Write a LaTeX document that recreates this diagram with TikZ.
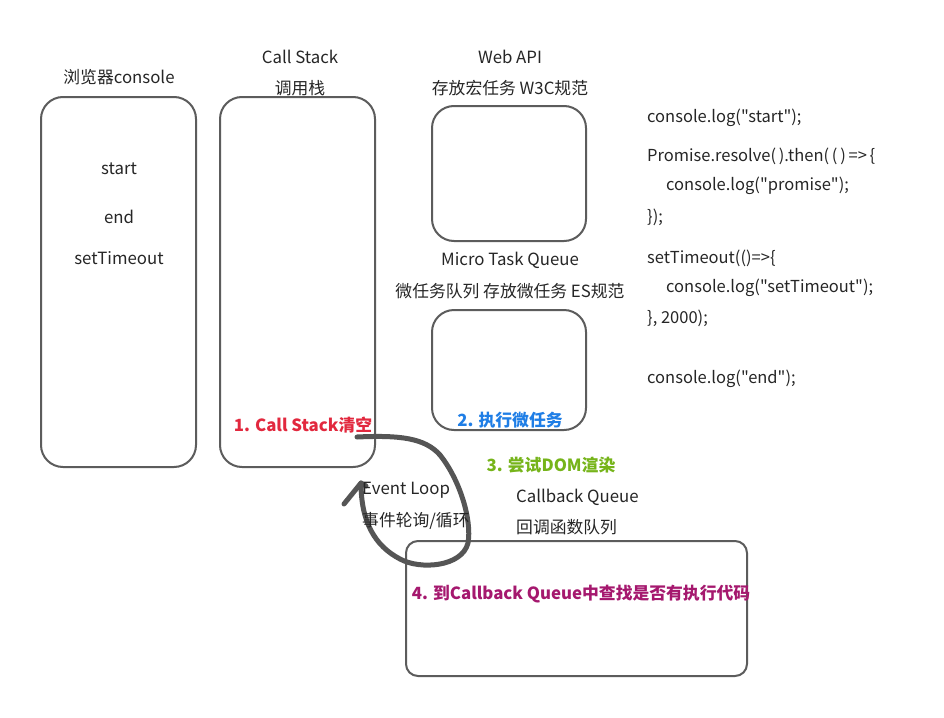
\documentclass[tikz,border=0pt]{standalone}
\usepackage{fontspec}
\setmainfont{Noto Sans CJK SC}[Ligatures=TeXOff]
\begin{document}
\begin{tikzpicture}[x=1pt,y=-1pt,
  box/.style={draw=boxgray,line width=2pt,rounded corners=22pt,inner sep=0pt},
  lbl/.style={font=\fontsize{16.8}{19}\selectfont,text=black!85,inner sep=0pt},
  code/.style={font=\fontsize{16.5}{19}\selectfont,text=black!85,inner sep=0pt,anchor=west},
  stepnote/.style={font=\fontsize{16.8}{19}\selectfont\bfseries,inner sep=0pt},
  loopline/.style={draw=loopgray,line width=5pt,line cap=round,line join=round}]
\definecolor{boxgray}{HTML}{5C5C5C}
\definecolor{loopgray}{HTML}{555555}
\definecolor{cred}{HTML}{E2283E}
\definecolor{cblue}{HTML}{1F7EE6}
\definecolor{cgreen}{HTML}{76B41A}
\definecolor{cpurple}{HTML}{A5186E}
\useasboundingbox[fill=white] (0,0) rectangle (944,717);

% boxes
\node[box,minimum width=155pt,minimum height=370pt] (console) at (118.5,282) {};
\node[box,minimum width=155pt,minimum height=370pt] (stack) at (297.5,282) {};
\node[box,minimum width=154pt,minimum height=135pt] (webapi) at (509,173.5) {};
\node[box,minimum width=154pt,minimum height=120pt] (micro) at (509,370) {};
\node[box,rounded corners=12pt,minimum width=341pt,minimum height=135pt] (callback) at (576.5,608.5) {};

% titles
\node[lbl] (tconsole) at (119,77) {浏览器console};
\node[lbl] (tstack1) at (300,57) {Call Stack};
\node[lbl] (tstack2) at (300,88) {调用栈};
\node[lbl] (tweb1) at (510,57) {Web API};
\node[lbl] (tweb2) at (510,88) {存放宏任务 W3C规范};
\node[lbl] (tmicro1) at (510,260) {Micro Task Queue};
\node[lbl] (tmicro2) at (510,291) {微任务队列 存放微任务 ES规范};
\node[lbl,anchor=west] (tcb1) at (516,497) {Callback Queue};
\node[lbl,anchor=west] (tcb2) at (516,527) {回调函数队列};

% console output
\node[lbl] (ostart) at (119,169) {start};
\node[lbl] (oend) at (119,217) {end};
\node[lbl] (otimeout) at (119,258) {setTimeout};

% code
\node[code] (c1) at (647,118) {console.log("start");};
\node[code] (c2) at (647,156) {Promise.resolve(\,).then(\,(\,)\,=>\,\{};
\node[code] (c3) at (666,186) {console.log("promise");};
\node[code] (c4) at (647,217) {\});};
\node[code] (c5) at (647,258) {setTimeout(()=>\{};
\node[code] (c6) at (666,288) {console.log("setTimeout");};
\node[code] (c7) at (647,318) {\}, 2000);};
\node[code] (c8) at (647,379) {console.log("end");};

% event loop
\coordinate (l0) at (357,437);
\coordinate (ltip) at (361,483);
\draw[loopline] (l0) .. controls (400,435) and (425,438) .. (440,455)
  .. controls (460,480) and (472,520) .. (468,543)
  .. controls (462,567) and (420,570) .. (400,559)
  .. controls (375,546) and (361,522) .. (ltip);
\coordinate (lwing) at (344,504);
\draw[loopline] (lwing) -- (ltip) -- (366,486);

\node[lbl,anchor=west] (el1) at (362,490) {Event Loop};
\node[lbl,anchor=west] (el2) at (362,521) {事件轮询/循环};

% step notes
\node[stepnote,text=cred] (s1) at (303,425) {1. Call Stack清空};
\node[stepnote,text=cblue] (s2) at (510,420) {2. 执行微任务};
\node[stepnote,text=cgreen] (s3) at (551,465) {3. 尝试DOM渲染};
\node[stepnote,text=cpurple] (s4) at (581,594) {4. 到Callback Queue中查找是否有执行代码};
\end{tikzpicture}
\end{document}
